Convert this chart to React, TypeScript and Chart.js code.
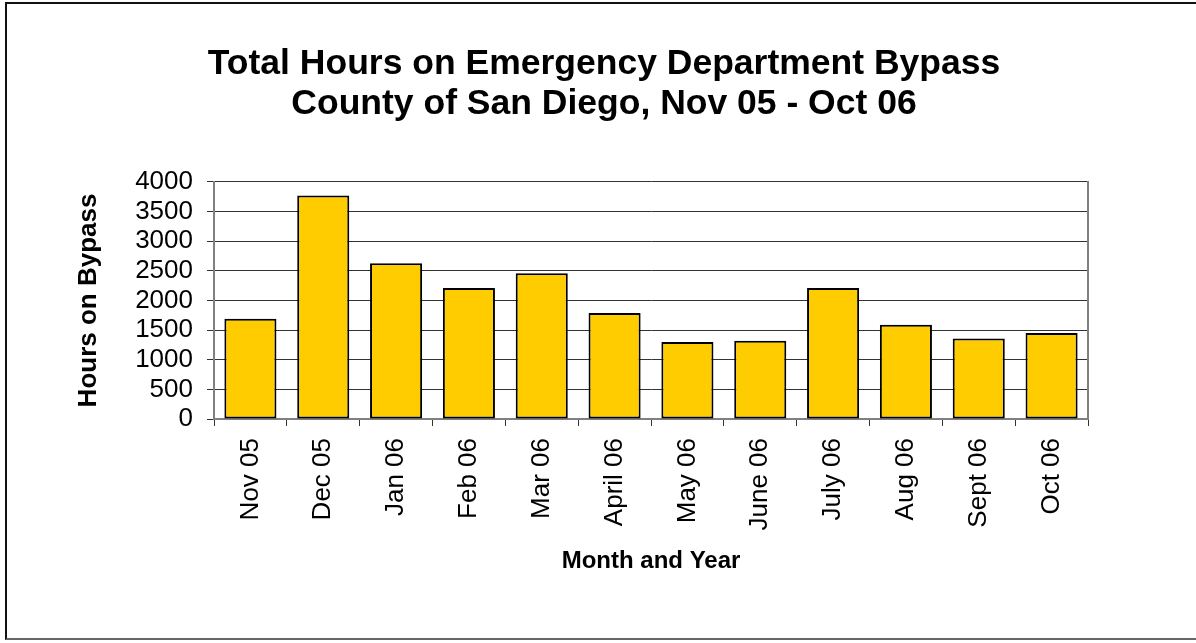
import React, { useEffect, useRef } from "react";
import { Chart, registerables } from "chart.js";

Chart.register(...registerables);

const titleLines = [
  "Total Hours on Emergency Department Bypass",
  "County of San Diego, Nov 05 - Oct 06",
];
const categories = [
  "Nov 05",
  "Dec 05",
  "Jan 06",
  "Feb 06",
  "Mar 06",
  "April 06",
  "May 06",
  "June 06",
  "July 06",
  "Aug 06",
  "Sept 06",
  "Oct 06",
];
const hoursOnBypass = [1690, 3770, 2630, 2210, 2460, 1790, 1300, 1320, 2210, 1590, 1360, 1450];
const yMin = 0;
const yMax = 4000;
const yStep = 500;
const yAxisTitle = "Hours on Bypass";
const xAxisTitle = "Month and Year";

const FONT = "'Liberation Sans', Arial, Helvetica, sans-serif";

export default function App() {
  const canvasRef = useRef<HTMLCanvasElement | null>(null);

  useEffect(() => {
    if (!canvasRef.current) return;
    const chart = new Chart(canvasRef.current, {
      type: "bar",
      data: {
        labels: categories,
        datasets: [
          {
            data: hoursOnBypass,
            backgroundColor: "#FFCC00",
            borderColor: "#000000",
            borderWidth: 2,
            borderSkipped: false,
            barPercentage: 0.715,
            categoryPercentage: 1,
            yAxisID: "y",
          },
        ],
      },
      options: {
        responsive: false,
        animation: false,
        devicePixelRatio: 1,
        layout: { padding: { left: 12, right: 0, top: 0, bottom: 0 } },
        plugins: {
          legend: { display: false },
          tooltip: { enabled: false },
          title: {
            display: true,
            text: titleLines,
            color: "#000",
            font: { family: FONT, size: 35.5, weight: "bold", lineHeight: 1.14 },
            padding: { top: 43.5, bottom: 57.5 },
          },
        },
        scales: {
          x: {
            type: "category",
            position: "bottom",
            grid: {
              display: true,
              drawOnChartArea: false,
              drawTicks: true,
              tickLength: 7,
              color: "#333",
              offset: true,
            },
            border: { display: true, color: "#808080", width: 2 },
            ticks: {
              color: "#000",
              font: { family: FONT, size: 26 },
              minRotation: 90,
              maxRotation: 90,
              padding: 12,
              autoSkip: false,
            },
            title: {
              display: true,
              text: xAxisTitle,
              color: "#000",
              font: { family: FONT, size: 24, weight: "bold", lineHeight: 1.2 },
              padding: { top: 4, bottom: 67.6 },
            },
            afterFit: (scale: any) => {
              scale.height = 224;
            },
          },
          y: {
            type: "linear",
            position: "left",
            min: yMin,
            max: yMax,
            grid: {
              color: "#333",
              lineWidth: 1,
              drawTicks: true,
              tickLength: 7,
            },
            border: { display: true, color: "#808080", width: 2 },
            ticks: {
              stepSize: yStep,
              autoSkip: false,
              color: "#000",
              font: { family: FONT, size: 26, lineHeight: 1 },
              padding: 14,
              callback: (value: any) => String(value),
            },
            title: {
              display: true,
              text: yAxisTitle,
              color: "#000",
              font: { family: FONT, size: 26, weight: "bold", lineHeight: 1.2 },
              padding: { top: 61, bottom: 4 },
            },
            afterFit: (scale: any) => {
              scale.width = 202;
            },
          },
          y2: {
            type: "linear",
            position: "right",
            min: yMin,
            max: yMax,
            grid: { drawOnChartArea: false, drawTicks: false },
            border: { display: true, color: "#808080", width: 2 },
            ticks: { display: false },
            afterFit: (scale: any) => {
              scale.width = 108;
            },
          },
        },
      },
    });
    return () => chart.destroy();
  }, []);

  return (
    <div
      style={{
        position: "fixed",
        left: 0,
        top: 0,
        width: 1196,
        height: 643,
        overflow: "hidden",
        background: "#fff",
      }}
    >
      <canvas
        ref={canvasRef}
        width={1196}
        height={643}
        style={{ position: "absolute", left: 0, top: 0, width: 1196, height: 643 }}
      />
      <div
        style={{
          position: "absolute",
          left: 5,
          top: 2,
          width: 1200,
          height: 638,
          borderLeft: "2px solid #111",
          borderTop: "2px solid #111",
          borderBottom: "2px solid #666",
          pointerEvents: "none",
          boxSizing: "border-box",
        }}
      />
    </div>
  );
}
